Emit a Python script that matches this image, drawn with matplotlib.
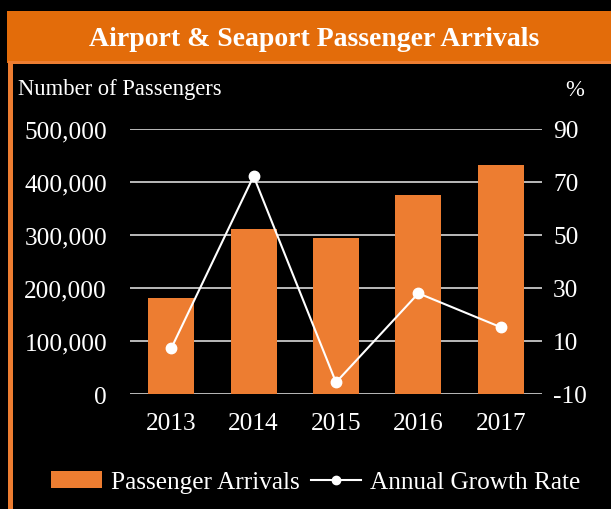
import matplotlib
matplotlib.use("Agg")
import matplotlib.pyplot as plt
from matplotlib.patches import Rectangle
from matplotlib.lines import Line2D
from matplotlib.ticker import FuncFormatter

years = ["2013", "2014", "2015", "2016", "2017"]
arrivals = [181000, 311000, 294000, 376000, 433000]
growth = [7.2, 72.2, -5.6, 28.0, 15.2]
left_ticks = [0, 100000, 200000, 300000, 400000, 500000]
right_ticks = [-10, 10, 30, 50, 70, 90]

W, H = 611, 510
FONT = "Liberation Serif"
plt.rcParams['font.family'] = [FONT, 'DejaVu Serif']

fig = plt.figure(figsize=(W / 100, H / 100), dpi=100, facecolor="black")

# title bar and border
fig.patches.append(Rectangle((7 / W, 1 - 64 / H), 1 - 7 / W, 52 / H, transform=fig.transFigure,
                             facecolor="#E36C0A", edgecolor="none", zorder=0))
fig.patches.append(Rectangle((8 / W, 0), 5 / W, 1 - 62 / H, transform=fig.transFigure,
                             facecolor="#ED7D31", edgecolor="none", zorder=0))
fig.patches.append(Rectangle((8 / W, 1 - 65 / H), 1 - 8 / W, 3 / H, transform=fig.transFigure,
                             facecolor="#ED7D31", edgecolor="none", zorder=0))
fig.text(314 / W, 1 - 40 / H, "Airport & Seaport Passenger Arrivals", color="white",
         fontsize=20, fontweight="bold", ha="center", va="center")

ax = fig.add_axes([130 / W, 1 - 395 / H, 412 / W, 265 / H])
ax.set_facecolor("black")
x = list(range(len(years)))
ax.bar(x, arrivals, width=0.56, color="#ED7D31", zorder=2)
ax.set_xlim(-0.5, len(years) - 0.5)
ax.set_ylim(0, 500000)
ax.set_yticks(left_ticks)
ax.yaxis.set_major_formatter(FuncFormatter(lambda v, p: f"{int(v):,}"))
ax.set_xticks(x)
ax.set_xticklabels(years)
for s in ax.spines.values():
    s.set_visible(False)
ax.grid(axis="y", color="#D9D9D9", linewidth=1.2, zorder=1)
ax.tick_params(axis="both", length=0, colors="white", labelsize=18.3)
ax.tick_params(axis="y", pad=16.5)
ax.tick_params(axis="x", pad=13)

ax2 = ax.twinx()
ax2.plot(x, growth, color="white", linewidth=1.5, marker="o", markersize=7.5, zorder=3)
ax2.set_ylim(-10, 90)
ax2.set_yticks(right_ticks)
ax2.yaxis.set_major_formatter(FuncFormatter(lambda v, p: f"{int(v)}"))
for s in ax2.spines.values():
    s.set_visible(False)
ax2.tick_params(axis="y", length=0, colors="white", labelsize=18.3, pad=8)

fig.text(18 / W, 1 - 90 / H, "Number of Passengers", color="white", fontsize=16.3, ha="left", va="center")
fig.text(575 / W, 1 - 90 / H, "%", color="white", fontsize=16.3, ha="center", va="center")

handles = [Rectangle((0, 0), 1, 1, facecolor="#ED7D31"),
           Line2D([0], [0], color="white", linewidth=1.5, marker="o", markersize=6)]
leg = fig.legend(handles, ["Passenger Arrivals", "Annual Growth Rate"], loc="center",
                 bbox_to_anchor=(316 / W, 1 - 483 / H), ncol=2, frameon=False,
                 fontsize=18.2, labelcolor="white", handlelength=2.0, handletextpad=0.35,
                 columnspacing=0.45)

fig.savefig("out.png", dpi=100, facecolor="black")
